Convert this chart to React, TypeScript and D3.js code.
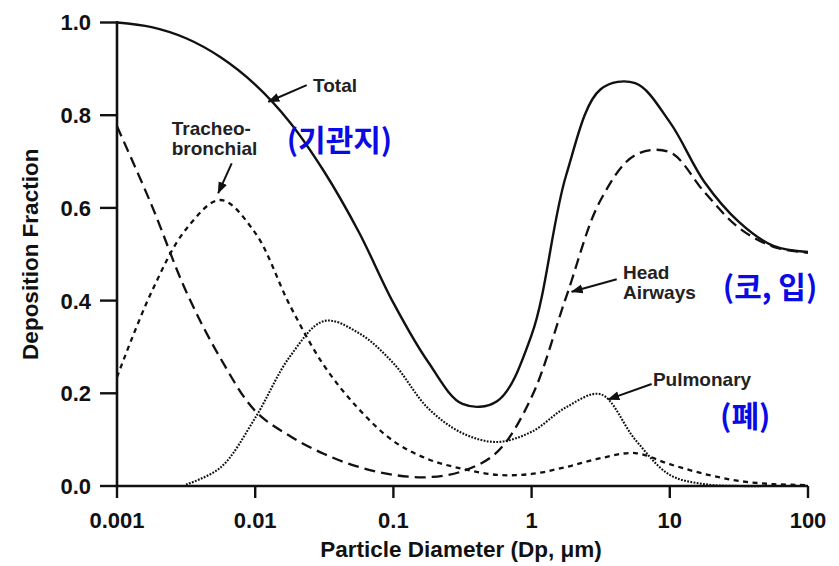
import React from 'react'
import * as d3 from 'd3'

// particle diameter (µm), quarter-decade steps
const diameters = [
  0.001, 0.00178, 0.00316, 0.00562, 0.01, 0.0178, 0.0316, 0.0562, 0.1, 0.178, 0.316,
  0.562, 1, 1.78, 3.16, 5.62, 10, 17.8, 31.6, 56.2, 100,
]
const total = [
  1.0, 0.99, 0.966, 0.925, 0.866, 0.785, 0.678, 0.548, 0.395, 0.268, 0.177,
  0.183, 0.326, 0.671, 0.856, 0.869, 0.785, 0.656, 0.57, 0.518, 0.505,
]
const headAirways = [
  0.776, 0.606, 0.42, 0.275, 0.162, 0.108, 0.069, 0.041, 0.024, 0.019, 0.032,
  0.073, 0.192, 0.408, 0.617, 0.714, 0.72, 0.634, 0.557, 0.516, 0.503,
]
const tracheobronchial = [
  0.235, 0.419, 0.554, 0.617, 0.546, 0.39, 0.259, 0.166, 0.097, 0.058, 0.037,
  0.024, 0.026, 0.041, 0.06, 0.071, 0.047, 0.026, 0.011, 0.004, 0.002,
]
const pulmonary = [
  null, null, 0.003, 0.04, 0.147, 0.279, 0.356, 0.33, 0.265, 0.168, 0.114,
  0.095, 0.117, 0.17, 0.198, 0.1, 0.024, 0.004, 0, 0, 0,
]

const xTicks = [0.001, 0.01, 0.1, 1, 10, 100]
const xTickLabels = ['0.001', '0.01', '0.1', '1', '10', '100']
const yTicks = [0, 0.2, 0.4, 0.6, 0.8, 1.0]
const yTickLabels = ['0.0', '0.2', '0.4', '0.6', '0.8', '1.0']

// annotation text anchors / arrows in data units (diameter, fraction)
const labels = [
  { lines: ['Total'], x: 0.0262, y: 0.85 },
  { lines: ['Tracheo-', 'bronchial'], x: 0.00249, y: 0.757 },
  { lines: ['Head', 'Airways'], x: 4.58, y: 0.447 },
  { lines: ['Pulmonary'], x: 7.55, y: 0.216 },
]
const arrows = [
  { from: [0.0236, 0.865], to: [0.01245, 0.829] },
  { from: [0.00676, 0.696], to: [0.0054, 0.632] },
  { from: [4.13, 0.446], to: [1.95, 0.419] },
  { from: [7.39, 0.22], to: [3.59, 0.187] },
]
const koreanLabels = [
  { text: '(기관지)', x: 0.0169, y: 0.723 },
  { text: '(코, 입)', x: 24.2, y: 0.406 },
  { text: '(폐)', x: 23.1, y: 0.127 },
]

const W = 839
const H = 566
const left = 117
const right = 808
const top = 22.5
const bottom = 486

export default function App() {
  const x = d3.scaleLog().domain([0.001, 100]).range([left, right])
  const y = d3.scaleLinear().domain([0, 1]).range([bottom, top])

  const line = d3
    .line<[number, number | null]>()
    .defined((d) => d[1] != null)
    .x((d) => x(d[0]))
    .y((d) => y(d[1] as number))
    .curve(d3.curveCatmullRom.alpha(0.5))

  const series = [
    { values: total, dash: null, width: 2.4 },
    { values: headAirways, dash: '11 6', width: 2.3 },
    { values: tracheobronchial, dash: '5 4.5', width: 2.3 },
    { values: pulmonary, dash: '1.8 1.4', width: 2.1 },
  ]

  const font = '"Liberation Sans", Arial, Helvetica, sans-serif'

  return (
    <svg
      width={W}
      height={H}
      style={{ position: 'absolute', left: 0, top: 0, background: '#fff' }}
      fontFamily={font}
    >
      <defs>
        <marker id="arrowhead" viewBox="0 0 12 10" refX="11" refY="5" markerWidth="6" markerHeight="5" orient="auto" markerUnits="strokeWidth">
          <path d="M0,0.5 L12,5 L0,9.5 z" fill="#111" />
        </marker>
      </defs>

      {series.map((s, i) => (
        <path
          key={i}
          d={line(diameters.map((d, j) => [d, s.values[j]]) as any) ?? ''}
          fill="none"
          stroke="#111"
          strokeWidth={s.width}
          strokeDasharray={s.dash ?? undefined}
        />
      ))}

      {/* axes */}
      <line x1={left} x2={left} y1={y(1) - 1.5} y2={bottom} stroke="#111" strokeWidth={2.6} />
      <line x1={left - 1.3} x2={right} y1={bottom} y2={bottom} stroke="#111" strokeWidth={2.6} />
      {yTicks.map((t, i) => (
        <g key={i}>
          <line x1={left - 17} x2={left} y1={y(t)} y2={y(t)} stroke="#111" strokeWidth={2.4} />
          <text x={91} y={y(t)} dy="0.36em" textAnchor="end" fontSize={22} fontWeight="bold" fill="#111">
            {yTickLabels[i]}
          </text>
        </g>
      ))}
      {xTicks.map((t, i) => (
        <g key={i}>
          <line x1={x(t)} x2={x(t)} y1={bottom} y2={bottom + 12} stroke="#111" strokeWidth={2.4} />
          <text x={x(t)} y={bottom + 42} textAnchor="middle" fontSize={22} fontWeight="bold" fill="#111">
            {xTickLabels[i]}
          </text>
        </g>
      ))}

      <text
        transform={`translate(38,${(top + bottom) / 2}) rotate(-90)`}
        textAnchor="middle"
        fontSize={22.5}
        fontWeight="bold"
        fill="#111"
      >
        Deposition Fraction
      </text>
      <text x={461} y={557} textAnchor="middle" fontSize={22.5} fontWeight="bold" fill="#111">
        Particle Diameter (Dp, μm)
      </text>

      {/* annotations */}
      {labels.map((l, i) => (
        <text key={i} x={x(l.x)} y={y(l.y)} fontSize={19} fontWeight="bold" fill="#222">
          {l.lines.map((ln, j) => (
            <tspan key={j} x={x(l.x)} dy={j === 0 ? 0 : 20}>
              {ln}
            </tspan>
          ))}
        </text>
      ))}
      {arrows.map((a, i) => (
        <line
          key={i}
          x1={x(a.from[0])}
          y1={y(a.from[1])}
          x2={x(a.to[0])}
          y2={y(a.to[1])}
          stroke="#111"
          strokeWidth={2}
          markerEnd="url(#arrowhead)"
        />
      ))}
      {koreanLabels.map((k, i) => (
        <text
          key={i}
          x={x(k.x)}
          y={y(k.y)}
          fontSize={30}
          fontWeight="bold"
          fill="#0a0ae6"
          fontFamily='"Noto Sans CJK KR", sans-serif'
        >
          {k.text}
        </text>
      ))}
    </svg>
  )
}
